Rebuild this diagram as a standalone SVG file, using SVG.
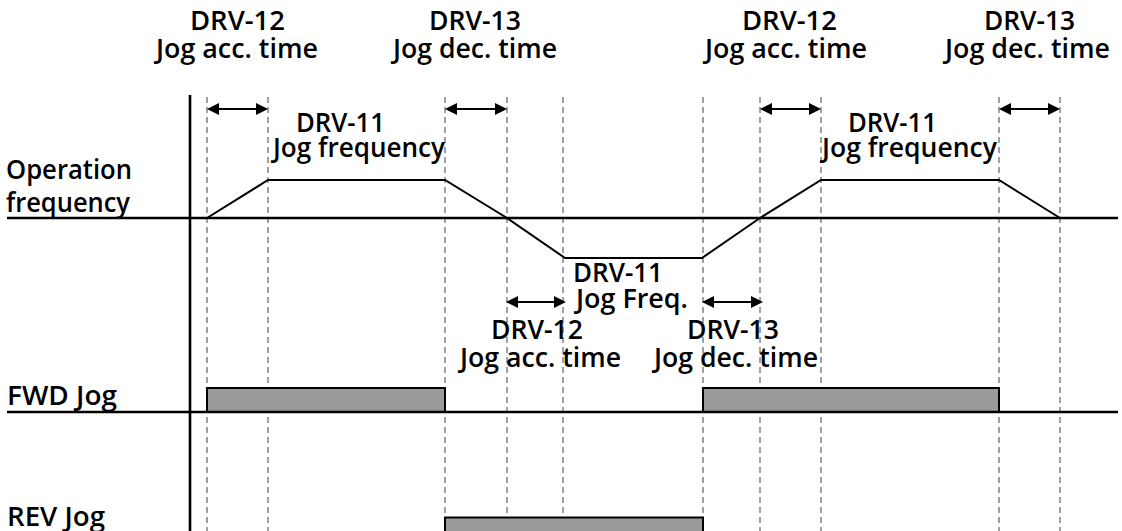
<svg xmlns="http://www.w3.org/2000/svg" width="1122" height="531" viewBox="0 0 1122 531">
<style>
text{font-family:"Open Sans","Noto Sans","Liberation Sans",sans-serif;font-weight:600;font-size:27.5px;fill:#000;}
.dash{stroke:#8a8a8a;stroke-width:1.6;stroke-dasharray:6 4;fill:none;}
.axis{stroke:#000;stroke-width:2.6;fill:none;}
.prof{stroke:#000;stroke-width:2;fill:none;}
.arr{stroke:#000;stroke-width:2.2;fill:none;marker-start:url(#ah);marker-end:url(#ah);}
.bar{fill:#9a9a9a;stroke:#000;stroke-width:2;}
</style>
<defs>
<marker id="ah" markerUnits="userSpaceOnUse" markerWidth="13" markerHeight="13" refX="3" refY="6" orient="auto-start-reverse">
<path d="M0,0 L12,6 L0,12 z" fill="#000"/>
</marker>
</defs>
<rect width="1122" height="531" fill="#fff"/>
<g id="gridlines">
<line class="dash" x1="207" y1="97" x2="207" y2="531"/>
<line class="dash" x1="268" y1="97" x2="268" y2="531"/>
<line class="dash" x1="445" y1="97" x2="445" y2="531"/>
<line class="dash" x1="507" y1="97" x2="507" y2="531"/>
<line class="dash" x1="563" y1="97" x2="563" y2="531"/>
<line class="dash" x1="703" y1="97" x2="703" y2="531"/>
<line class="dash" x1="760" y1="97" x2="760" y2="531"/>
<line class="dash" x1="821" y1="97" x2="821" y2="531"/>
<line class="dash" x1="999" y1="97" x2="999" y2="531"/>
<line class="dash" x1="1060" y1="97" x2="1060" y2="531"/>
</g>
<g id="bars">
<rect class="bar" x="207" y="388" width="238" height="24"/>
<rect class="bar" x="703" y="388" width="296" height="24"/>
<rect class="bar" x="445" y="517.5" width="258" height="20"/>
</g>
<g id="axes">
<line class="axis" x1="190" y1="95" x2="190" y2="531"/>
<line class="axis" x1="7" y1="218" x2="1118" y2="218"/>
<line class="axis" x1="7" y1="412" x2="1118" y2="412"/>
</g>
<g id="profile">
<polyline class="prof" points="207,218 268,180 445,180 507,218 565,258 702,258 760,218 821,180 999,180 1060,218"/>
</g>
<g id="connectors">
<path class="arr" d="M216,109 H259"/>
<path class="arr" d="M454,109 H498"/>
<path class="arr" d="M769,109 H812"/>
<path class="arr" d="M1008,109 H1051"/>
<path class="arr" d="M515,302 H557"/>
<path class="arr" d="M711,302 H754"/>
</g>
<g id="labels">
<text x="190" y="30" textLength="95" lengthAdjust="spacingAndGlyphs">DRV-12</text>
<text x="156" y="58" textLength="162" lengthAdjust="spacingAndGlyphs">Jog acc. time</text>
<text x="429" y="30" textLength="92" lengthAdjust="spacingAndGlyphs">DRV-13</text>
<text x="393" y="58" textLength="164" lengthAdjust="spacingAndGlyphs">Jog dec. time</text>
<text x="742" y="30" textLength="95" lengthAdjust="spacingAndGlyphs">DRV-12</text>
<text x="705" y="58" textLength="162" lengthAdjust="spacingAndGlyphs">Jog acc. time</text>
<text x="984" y="30" textLength="91" lengthAdjust="spacingAndGlyphs">DRV-13</text>
<text x="945" y="58" textLength="165" lengthAdjust="spacingAndGlyphs">Jog dec. time</text>
<text x="296" y="132" textLength="89" lengthAdjust="spacingAndGlyphs">DRV-11</text>
<text x="273" y="157" textLength="172" lengthAdjust="spacingAndGlyphs">Jog frequency</text>
<text x="848" y="132" textLength="89" lengthAdjust="spacingAndGlyphs">DRV-11</text>
<text x="822" y="157" textLength="175" lengthAdjust="spacingAndGlyphs">Jog frequency</text>
<text x="6" y="179" textLength="126" lengthAdjust="spacingAndGlyphs">Operation</text>
<text x="6" y="212" textLength="124" lengthAdjust="spacingAndGlyphs">frequency</text>
<text x="573" y="282" textLength="90" lengthAdjust="spacingAndGlyphs">DRV-11</text>
<text x="576" y="308" textLength="112" lengthAdjust="spacingAndGlyphs">Jog Freq.</text>
<text x="491" y="339" textLength="92" lengthAdjust="spacingAndGlyphs">DRV-12</text>
<text x="460" y="367" textLength="161" lengthAdjust="spacingAndGlyphs">Jog acc. time</text>
<text x="687" y="339" textLength="92" lengthAdjust="spacingAndGlyphs">DRV-13</text>
<text x="654" y="367" textLength="164" lengthAdjust="spacingAndGlyphs">Jog dec. time</text>
<text x="7" y="405" textLength="110" lengthAdjust="spacingAndGlyphs">FWD Jog</text>
<text x="7" y="526" textLength="98" lengthAdjust="spacingAndGlyphs">REV Jog</text>
</g>
</svg>
